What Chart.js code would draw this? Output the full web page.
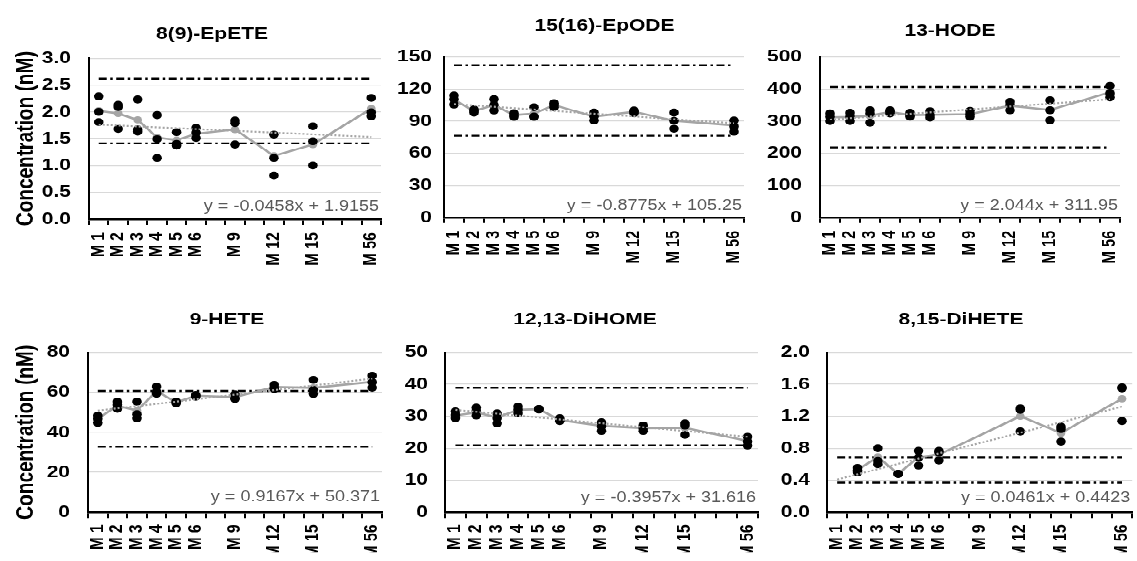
<!DOCTYPE html>
<html>
<head>
<meta charset="utf-8">
<script src="https://cdn.jsdelivr.net/npm/chart.js@4.4.1/dist/chart.umd.min.js"></script>
<style>
  html, body { margin: 0; padding: 0; background: #fff; }
  #board { position: relative; width: 1137px; height: 561px; overflow: hidden; background: #fff; }
  /* the panels are laid out on a taller stage that is compressed vertically */
  #stage { position: absolute; left: 0; top: 0; width: 1137px; height: 676px; transform: scaleY(0.8299); transform-origin: 0 0; }
  #stage canvas { position: absolute; }
</style>
</head>
<body>
<div id="board">
  <div id="stage">
    <canvas id="c1"></canvas>
    <canvas id="c2"></canvas>
    <canvas id="c3"></canvas>
    <canvas id="c4"></canvas>
    <canvas id="c5"></canvas>
    <canvas id="c6"></canvas>
  </div>
</div>
<script>
// Sampling months (blank slots keep the spacing between visits)
const months = ['M 1', 'M 2', 'M 3', 'M 4', 'M 5', 'M 6', '', 'M 9', '', 'M 12', '', 'M 15', '', '', 'M 56'];

const titles = ['8(9)-EpETE', '15(16)-EpODE', '13-HODE', '9-HETE', '12,13-DiHOME', '8,15-DiHETE'];
const equations = [
  'y = -0.0458x + 1.9155',
  'y = -0.8775x + 105.25',
  'y = 2.044x + 311.95',
  'y = 0.9167x + 50.371',
  'y = -0.3957x + 31.616',
  'y = 0.0461x + 0.4423'
];
const yTitle = 'Concentration (nM)';

// 8(9)-EpETE (nM)
const epeteRepA = [2.29, 2.13, 2.23, 1.94, 1.62, 1.70, null, 1.84, null, 1.575, null, 1.73, null, null, 2.26];
const epeteRepB = [2.00, 2.09, 1.67, 1.49, 1.40, 1.61, null, 1.79, null, 1.14, null, 1.45, null, null, 1.99];
const epeteRepC = [1.81, 1.68, 1.63, 1.14, 1.37, 1.51, null, 1.39, null, 0.81, null, 1.00, null, null, 1.92];
const epeteMean = [2.02, 1.97, 1.85, 1.52, 1.47, 1.59, null, 1.67, null, 1.18, null, 1.39, null, null, 2.06];
const epeteTrend = [1.76, 1.53];
const epeteLimits = [2.62, 1.41];

// 15(16)-EpODE (nM)
const epodeRepA = [114, 101, 110.5, 97.5, 103, 106.9, null, 98, null, 100, null, 98, null, null, 90.6];
const epodeRepB = [110.5, 99.5, 105, 95.5, 94.4, 105.3, null, 94.4, null, 99, null, 90.3, null, null, 85];
const epodeRepC = [105.5, 98, 100, 94, 94, 103, null, 90.6, null, 97.5, null, 82.8, null, null, 80];
const epodeMean = [110, 99.5, 105, 95.7, 97.1, 105, null, 94.3, null, 98.8, null, 90.4, null, null, 86];
const epodeTrend = [106, 88];
const epodeLimits = [142.2, 76.3];

// 13-HODE (nM)
const hodeRepA = [324, 326, 334, 334, 326, 331, null, 332, null, 360, null, 365, null, null, 410];
const hodeRepB = [314, 314, 324, 330, 319, 319, null, 322, null, 350, null, 334, null, null, 386];
const hodeRepC = [300, 300, 295, 324, 314, 311, null, 314, null, 334, null, 303, null, null, 374];
const hodeMean = [312, 313, 317, 329, 319, 320, null, 322, null, 348, null, 335, null, null, 390];
const hodeTrend = [305, 368];
const hodeLimits = [406, 218];

// 9-HETE (nM)
const heteRepA = [48.3, 55.3, 55.3, 62.8, 55.3, 58.7, null, 59, null, 63.7, null, 66.2, null, null, 68.3];
const heteRepB = [46.7, 53.7, 49, 60.2, 54.5, 58.3, null, 57, null, 62.3, null, 61.2, null, null, 65];
const heteRepC = [44.7, 51.7, 47, 59.3, 55, 57.8, null, 56.7, null, 61.7, null, 59.2, null, null, 62.3];
const heteMean = [46.8, 53.2, 50.8, 60.6, 55, 58.3, null, 57.6, null, 62.6, null, 62.2, null, null, 65.2];
const heteTrend = [50.8, 66.8];
const heteLimits = [60.7, 32.8];

// 12,13-DiHOME (nM)
const dihomeRepA = [31.5, 32.7, 30.9, 33, 32.3, 29.4, null, 28.1, null, 27.1, null, 27.8, null, null, 23.6];
const dihomeRepB = [30.4, 31.7, 29.4, 32, 32.2, 28.9, null, 26.8, null, 26.25, null, 27.1, null, null, 22.1];
const dihomeRepC = [29.4, 30.2, 27.8, 30.9, 32.1, 28.5, null, 25.4, null, 25.4, null, 24.2, null, null, 20.8];
const dihomeMean = [30.2, 31.2, 29.6, 32, 32.2, 28.8, null, 27, null, 26.3, null, 26.4, null, null, 22.3];
const dihomeTrend = [32, 23.6];
const dihomeLimits = [38.9, 20.9];

// 8,15-DiHETE (nM)
const diheteRepA = [null, 0.555, 0.80, 0.48, 0.767, 0.767, null, null, null, 1.30, null, 1.07, null, null, 1.56];
const diheteRepB = [null, 0.525, 0.64, 0.48, 0.683, 0.75, null, null, null, 1.28, null, 1.04, null, null, 1.55];
const diheteRepC = [null, 0.50, 0.60, 0.48, 0.583, 0.646, null, null, null, 1.01, null, 0.883, null, null, 1.14];
const diheteMean = [null, 0.53, 0.69, 0.48, 0.69, 0.72, null, null, null, 1.2, null, 0.99, null, null, 1.42];
const diheteTrend = [0.41, 1.32];
const diheteLimits = [0.683, 0.37];

// Y axis ranges
const yMaxes = [3, 150, 500, 80, 50, 2];
const ySteps = [0.5, 30, 100, 20, 10, 0.4];
const yDecimals = [1, 0, 0, 0, 0, 1];

const series = [
  { reps: [epeteRepA, epeteRepB, epeteRepC], mean: epeteMean, trend: epeteTrend, limits: epeteLimits },
  { reps: [epodeRepA, epodeRepB, epodeRepC], mean: epodeMean, trend: epodeTrend, limits: epodeLimits },
  { reps: [hodeRepA, hodeRepB, hodeRepC], mean: hodeMean, trend: hodeTrend, limits: hodeLimits },
  { reps: [heteRepA, heteRepB, heteRepC], mean: heteMean, trend: heteTrend, limits: heteLimits },
  { reps: [dihomeRepA, dihomeRepB, dihomeRepC], mean: dihomeMean, trend: dihomeTrend, limits: dihomeLimits },
  { reps: [diheteRepA, diheteRepB, diheteRepC], mean: diheteMean, trend: diheteTrend, limits: diheteLimits }
];

// Panel frames in stage units (canvas box, plot insets, label placement)
const frames = [
  { left: 0,   top: 0,   width: 392, height: 337, yW: 89, padR: 11, padT: 70.2, padB: 13.1, xH: 60, tickPad: 18, xPad: 9, titleX: 212,   titleY: 41,   yTitleX: 27,   eqDy: 9.6 },
  { left: 392, top: 0,   width: 368, height: 337, yW: 52, padR: 16, padT: 68.7, padB: 15.2, xH: 60, tickPad: 12, xPad: 9, titleX: 212.5, titleY: 31.3, yTitleX: null, eqDy: 9 },
  { left: 760, top: 0,   width: 377, height: 337, yW: 60, padR: 17, padT: 68.7, padB: 15.2, xH: 60, tickPad: 18, xPad: 9, titleX: 190,   titleY: 37.3, yTitleX: null, eqDy: 9 },
  { left: 0,   top: 337, width: 392, height: 339, yW: 88, padR: 10, padT: 87.5, padB: 10.8, xH: 48, tickPad: 18, xPad: 8, titleX: 227,   titleY: 48.5, yTitleX: 26.7, eqDy: 13.3 },
  { left: 392, top: 337, width: 383, height: 339, yW: 53, padR: 17, padT: 87.5, padB: 10.8, xH: 48, tickPad: 17, xPad: 8, titleX: 193,   titleY: 48.5, yTitleX: null, eqDy: 12.7 },
  { left: 775, top: 337, width: 362, height: 339, yW: 52, padR: 1,  padT: 87.5, padB: 10.8, xH: 48, tickPad: 17, xPad: 8, titleX: 186,   titleY: 48.5, yTitleX: null, eqDy: 12.7 }
];

const FONT = "'Liberation Sans', Arial, Helvetica, sans-serif";
Chart.defaults.font.family = FONT;
Chart.defaults.color = '#000';

const MEAN_GREY = '#a5a5a5';

// Two-point line across the whole category range
function across(first, last) {
  const row = months.map(() => null);
  row[0] = first;
  row[row.length - 1] = last;
  return row;
}

// Panel heading and trend equation
const panelText = {
  id: 'panelText',
  beforeDatasetsDraw(chart, args, opts) {
    const ctx = chart.ctx;
    const area = chart.chartArea;
    ctx.save();
    ctx.fillStyle = '#595959';
    ctx.font = '18px ' + FONT;
    ctx.textAlign = 'right';
    ctx.textBaseline = 'alphabetic';
    ctx.fillText(opts.equation, area.right - 2, area.bottom - opts.eqDy);
    ctx.restore();
  },
  afterDraw(chart, args, opts) {
    const ctx = chart.ctx;
    ctx.save();
    ctx.fillStyle = '#000';
    ctx.font = 'bold 21px ' + FONT;
    ctx.textAlign = 'center';
    ctx.textBaseline = 'middle';
    ctx.fillText(opts.title, opts.x, opts.y);
    ctx.restore();
  }
};

series.forEach((s, i) => {
  const f = frames[i];
  const canvas = document.getElementById('c' + (i + 1));
  canvas.width = f.width;
  canvas.height = f.height;
  canvas.style.left = f.left + 'px';
  canvas.style.top = f.top + 'px';
  canvas.style.width = f.width + 'px';
  canvas.style.height = f.height + 'px';

  const datasets = [];
  datasets.push({
    label: 'Linear trend',
    data: across(s.trend[0], s.trend[1]),
    borderColor: MEAN_GREY,
    borderWidth: 2.2,
    borderDash: [2, 2],
    pointRadius: 0,
    spanGaps: true,
    order: 0
  });
  s.reps.forEach((r, k) => {
    datasets.push({
      label: 'Replicate ' + (k + 1),
      data: r,
      showLine: false,
      pointRadius: 4.8,
      pointBackgroundColor: '#000',
      pointBorderColor: '#000',
      pointBorderWidth: 0,
      order: 1
    });
  });
  datasets.push({
    label: 'Mean',
    data: s.mean,
    borderColor: MEAN_GREY,
    borderWidth: 2.6,
    pointRadius: 4.4,
    pointBackgroundColor: MEAN_GREY,
    pointBorderColor: MEAN_GREY,
    pointBorderWidth: 0,
    spanGaps: true,
    order: 2
  });
  s.limits.forEach((v, k) => {
    datasets.push({
      label: k === 0 ? 'Upper limit' : 'Lower limit',
      data: across(v, v),
      borderColor: '#000',
      borderWidth: 2.4,
      borderDash: [8, 3.5, 2.5, 3.5],
      pointRadius: 0,
      spanGaps: true,
      order: 3
    });
  });

  const dec = yDecimals[i];
  new Chart(canvas, {
    type: 'line',
    data: { labels: months, datasets },
    options: {
      responsive: false,
      animation: false,
      devicePixelRatio: 1,
      events: [],
      elements: { line: { tension: 0 } },
      layout: { padding: { left: 0, right: f.padR, top: f.padT, bottom: f.padB } },
      plugins: {
        legend: { display: false },
        tooltip: { enabled: false },
        title: { display: false },
        panelText: { title: titles[i], equation: equations[i], x: f.titleX, y: f.titleY, eqDy: f.eqDy }
      },
      scales: {
        x: {
          type: 'category',
          offset: true,
          grid: {
            display: true,
            offset: true,
            drawOnChartArea: false,
            drawTicks: true,
            tickLength: 7,
            color: '#000',
            lineWidth: 2
          },
          border: { display: true, color: '#000', width: 2.4 },
          ticks: {
            autoSkip: false,
            maxRotation: 90,
            minRotation: 90,
            padding: f.xPad,
            color: '#000',
            font: { size: 18, weight: 'bold' }
          },
          afterFit(scale) {
            scale.height = f.xH;
            scale.paddingLeft = 0;
            scale.paddingRight = 0;
          }
        },
        y: {
          min: 0,
          max: yMaxes[i],
          grid: { color: '#d9d9d9', lineWidth: 1.2, drawTicks: false },
          border: { display: true, color: '#000', width: 2 },
          ticks: {
            stepSize: ySteps[i],
            padding: f.tickPad,
            color: '#000',
            font: { size: 21, weight: 'bold' },
            callback: (v) => Number(v).toFixed(dec)
          },
          title: {
            display: f.yTitleX !== null,
            text: yTitle,
            color: '#000',
            font: { size: 23, weight: 'bold' },
            padding: { top: f.yTitleX !== null ? f.yTitleX - 13.8 : 0, bottom: 0 }
          },
          afterFit(scale) {
            scale.width = f.yW;
          }
        }
      }
    },
    plugins: [panelText]
  });
});
</script>
</body>
</html>
